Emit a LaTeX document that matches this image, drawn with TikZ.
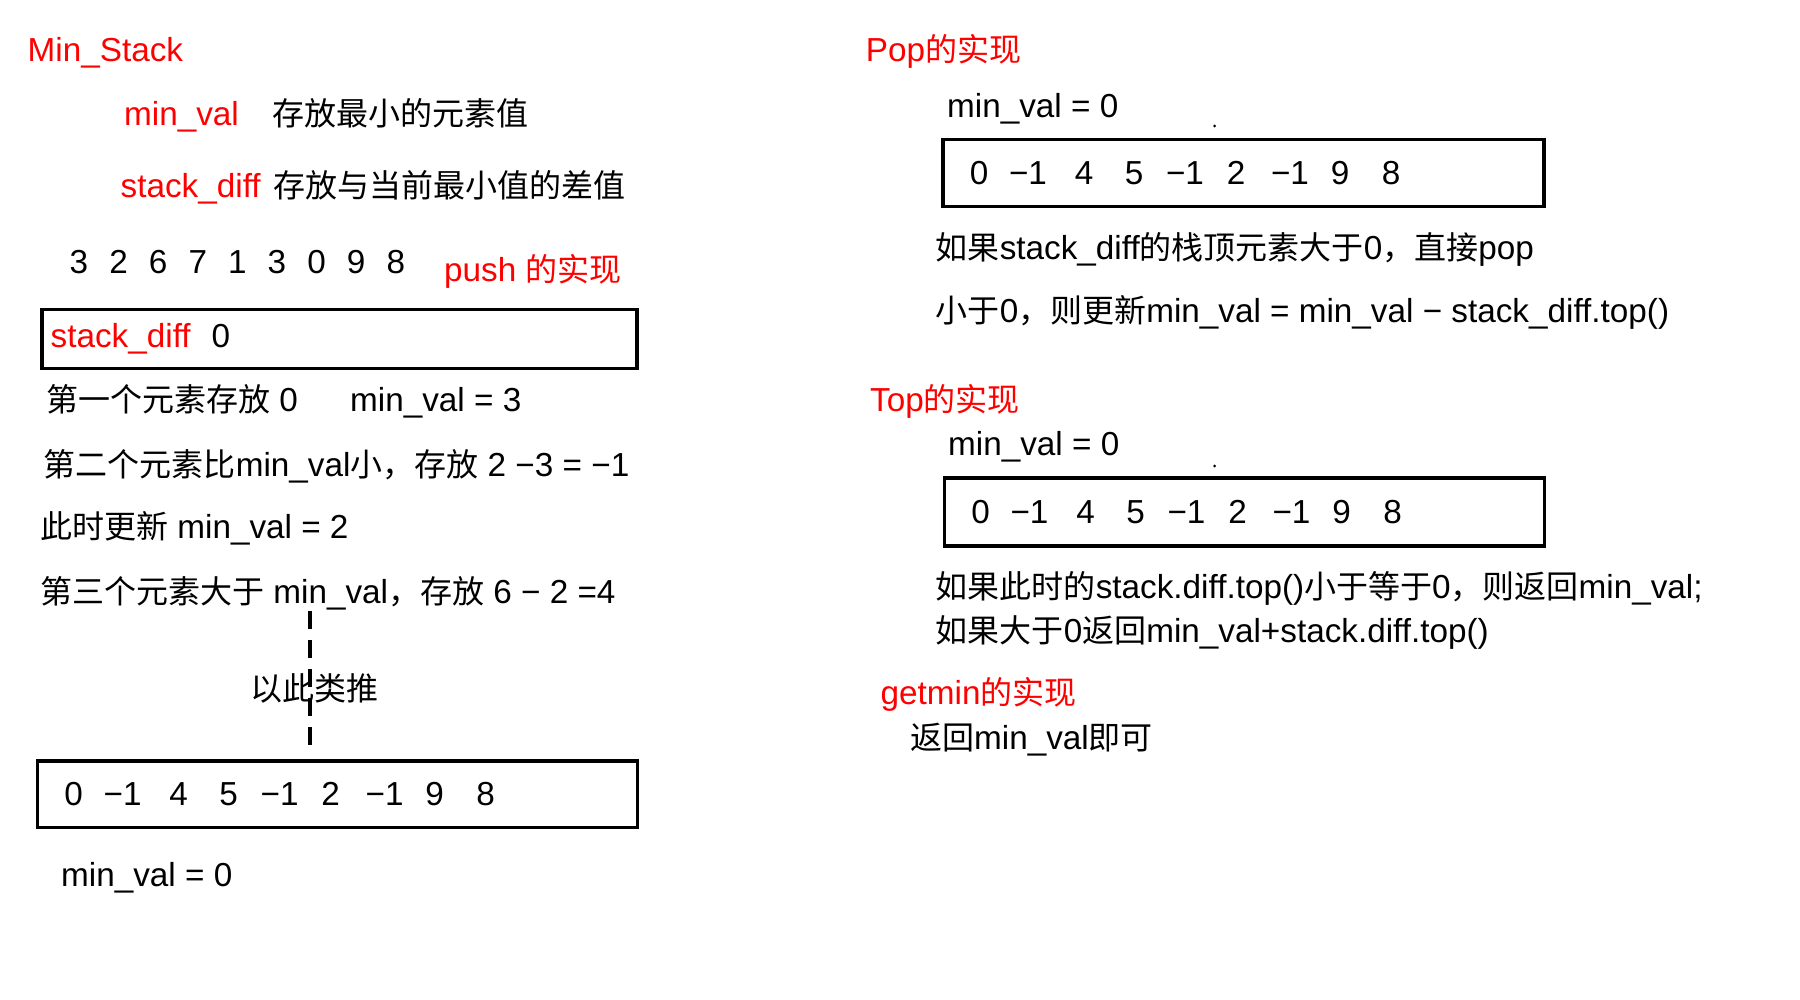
\documentclass[tikz,border=0pt]{standalone}
\usepackage{fontspec}
\setmainfont{Liberation Sans}[Scale=1.04]
\newfontfamily\cjk{Noto Sans CJK SC}
\usetikzlibrary{positioning}

\begin{document}
\begin{tikzpicture}[x=1pt, y=-1pt,
    txt/.style={inner sep=0pt, anchor=west, text height=26pt, text depth=3pt, font=\fontsize{32}{38}\selectfont},
    hl/.style={txt, text=red},
    diffbox/.style={draw, line width=3.5pt, anchor=north west, inner sep=0pt},
    dashline/.style={line width=3.5pt, dash pattern=on 18pt off 11pt}
]
\useasboundingbox (0,0) rectangle (1800,1000);

% left column: push
\node[hl] (title) at (27.5,50.5) {Min\_Stack};
\node[hl] (mv) at (124,113.6) {min\_val};
\node[txt] (mvtxt) at (272,113.6) {\cjk 存放最小的元素值};
\node[hl] (sd) at (120.5,186) {stack\_diff};
\node[txt] (sdtxt) at (273,186) {\cjk 存放与当前最小值的差值};

\foreach \v [count=\i from 0] in {3,2,6,7,1,3,0,9,8}
    \node[txt, anchor=center] (in\i) at (79+39.6*\i,262) {\v};
\node[hl] (push) at (444,270) {push {\cjk 的实现}};

\node[diffbox, minimum width=595pt, minimum height=59pt] (first) at (40,308) {};
\node[hl] (firstsd) at (50.5,336) {stack\_diff};
\node[txt, anchor=center] (firstv) at (221,336) {0};

\node[txt] (line1) at (46,399.5) {{\cjk 第一个元素存放} 0};
\node[txt] (line1b) at (350,399.5) {min\_val = 3};
\node[txt] (line2) at (43.6,465) {{\cjk 第二个元素比}min\_val{\cjk 小，存放} 2 −3 = −1};
\node[txt] (line2b) at (40,527) {{\cjk 此时更新} min\_val = 2};
\node[txt] (line3) at (40,592) {{\cjk 第三个元素大于} min\_val{\cjk ，存放} 6 − 2 =4};

\node[diffbox, minimum width=600pt, minimum height=66.5pt] (res) at (35.6,759) {};
\node[txt, anchor=center] (etc) at (314.6,689) {\cjk 以此类推};
\draw[dashline] ([xshift=-4.5pt, yshift=-4.5pt]line3.south -| etc) -- ([xshift=-4.5pt, yshift=12pt]res.north -| etc);
\node[txt] (resmv) at (61,875) {min\_val = 0};

% right column: pop, top, getmin
\node[hl] (poptitle) at (865.6,50.5) {Pop{\cjk 的实现}};
\node[txt] (popmv) at (947,105.6) {min\_val = 0};
\fill (1214.6,126) circle (1.6pt);
\node[diffbox, minimum width=601pt, minimum height=67pt] (pop) at (941,138) {};
\node[txt] (pop1) at (935.6,248) {{\cjk 如果}stack\_diff{\cjk 的栈顶元素大于}0{\cjk ，直接}pop};
\node[txt] (pop2) at (935.6,311) {{\cjk 小于}0{\cjk ，则更新}min\_val = min\_val − stack\_diff.top()};

\node[hl] (toptitle) at (870,399.5) {Top{\cjk 的实现}};
\node[txt] (topmv) at (948,444) {min\_val = 0};
\fill (1214.6,466) circle (1.6pt);
\node[diffbox, minimum width=600pt, minimum height=68pt] (top) at (942.5,476) {};
\node[txt] (top1) at (935.6,586.6) {{\cjk 如果此时的}stack.diff.top(){\cjk 小于等于}0{\cjk ，则返回}min\_val;};
\node[txt] (top2) at (935.6,631.4) {{\cjk 如果大于}0{\cjk 返回}min\_val+stack.diff.top()};

\node[hl] (gmtitle) at (880.5,693.4) {getmin{\cjk 的实现}};
\node[txt] (gm1) at (910,738) {{\cjk 返回}min\_val{\cjk 即可}};

% the three stacks of differences
\foreach \b in {res,pop,top}
    \foreach \v/\dx [count=\i] in {0/38,−1/87,4/143,5/193,−1/244,2/295,−1/349,9/399,8/450}
        \node[txt, anchor=center] (\b-\i) at ([xshift=\dx pt]\b.west) {\v};
\end{tikzpicture}
\end{document}
